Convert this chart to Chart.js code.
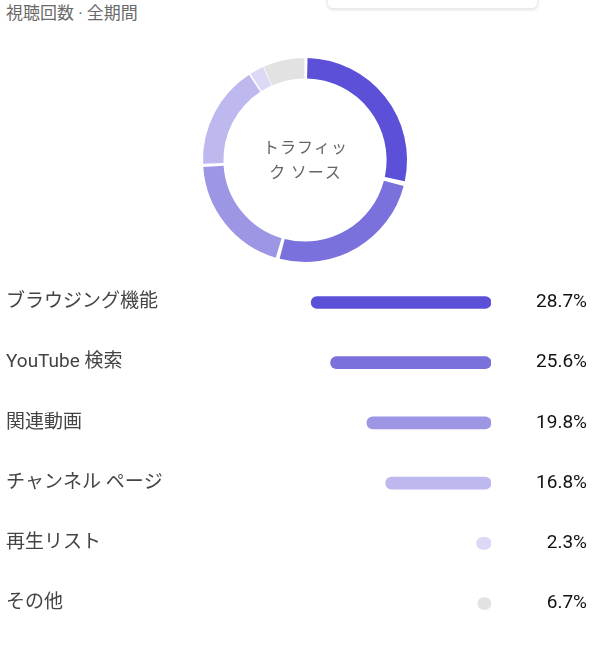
<!DOCTYPE html>
<html>
<head>
<meta charset="utf-8">
<script src="https://cdn.jsdelivr.net/npm/chart.js@4/dist/chart.umd.min.js"></script>
<style>
body { margin: 0; background: #fff; width: 608px; height: 650px; overflow: hidden; position: relative;
       font-family: Roboto, "Noto Sans CJK JP", sans-serif; }
#title { position: absolute; left: 6px; top: 1px; font-size: 17px; line-height: 24px; color: #6a6a6a; }
#menu { position: absolute; left: 327px; top: -20px; width: 209px; height: 27px; background: #fff;
        border: 1px solid #ececec; border-radius: 6px; box-shadow: 0 1px 3px rgba(0,0,0,0.12); }
#donut { position: absolute; left: 185px; top: 40px; }
#bars { position: absolute; left: 0; top: 261px; }
</style>
</head>
<body>
<div id="title">視聴回数 · 全期間</div>
<div id="menu"></div>
<canvas id="donut" width="240" height="240"></canvas>
<canvas id="bars" width="608" height="384"></canvas>
<script>
var sources = ['ブラウジング機能', 'YouTube 検索', '関連動画', 'チャンネル ページ', '再生リスト', 'その他'];
var shares = [28.7, 25.6, 19.8, 16.8, 2.3, 6.7];
// bar lengths as drawn in the list (the "other" row only shows a dot)
var barLengths = [28.7, 25.6, 19.8, 16.8, 2.3, 2.1];
var colors = ['#5c50d8', '#7b71dd', '#9d96e4', '#bdb8ed', '#dcd9f6', '#e2e2e2'];
var centerLines = ['トラフィッ', 'ク ソース'];

var pctLabels = shares.map(function(v) { return v.toFixed(1) + '%'; });

// center text of the ring
var centerText = {
    id: 'centerText',
    afterDraw: function(chart) {
        var ctx = chart.ctx;
        var a = chart.chartArea;
        var cx = (a.left + a.right) / 2;
        var cy = (a.top + a.bottom) / 2;
        ctx.save();
        ctx.font = '16px "Noto Sans CJK JP"';
        ctx.fillStyle = '#666';
        ctx.textAlign = 'center';
        ctx.textBaseline = 'middle';
        ctx.letterSpacing = '1px';
        ctx.fillText(centerLines[0], cx + 0.5, cy - 13);
        ctx.fillText(centerLines[1], cx + 0.5, cy + 12);
        ctx.restore();
    }
};

var donut = new Chart(document.getElementById('donut'), {
    type: 'doughnut',
    data: {
        labels: sources,
        datasets: [{
            data: shares,
            backgroundColor: colors,
            borderWidth: 0,
            spacing: 5
        }]
    },
    options: {
        responsive: false,
        animation: false,
        events: [],
        radius: 99.5,
        cutout: '79.5%',
        layout: { padding: 0 },
        plugins: {
            legend: { display: false },
            tooltip: { enabled: false }
        }
    },
    plugins: [centerText]
});

var bars = new Chart(document.getElementById('bars'), {
    type: 'bar',
    data: {
        labels: sources,
        datasets: [{
            data: barLengths,
            backgroundColor: colors,
            borderRadius: 7,
            borderSkipped: false,
            barThickness: 12
        }]
    },
    options: {
        indexAxis: 'y',
        responsive: false,
        animation: false,
        events: [],
        layout: { padding: { left: 6, right: 21, top: 0, bottom: 0 } },
        plugins: {
            legend: { display: false },
            tooltip: { enabled: false }
        },
        scales: {
            x: {
                display: false,
                reverse: true,
                min: 0,
                max: 30
            },
            y: {
                position: 'left',
                grid: { display: false },
                border: { display: false },
                ticks: {
                    crossAlign: 'far',
                    color: '#444',
                    padding: 0,
                    font: { size: 19, family: 'Roboto, "Noto Sans CJK JP"' }
                },
                afterFit: function(scale) { scale.width = 297; }
            },
            y2: {
                type: 'category',
                position: 'right',
                labels: pctLabels,
                grid: { display: false },
                border: { display: false },
                ticks: {
                    crossAlign: 'far',
                    color: '#111',
                    padding: 0,
                    font: { size: 19, family: 'Roboto, "Noto Sans CJK JP"' }
                },
                afterFit: function(scale) { scale.width = 96; }
            }
        }
    }
});
</script>
</body>
</html>
